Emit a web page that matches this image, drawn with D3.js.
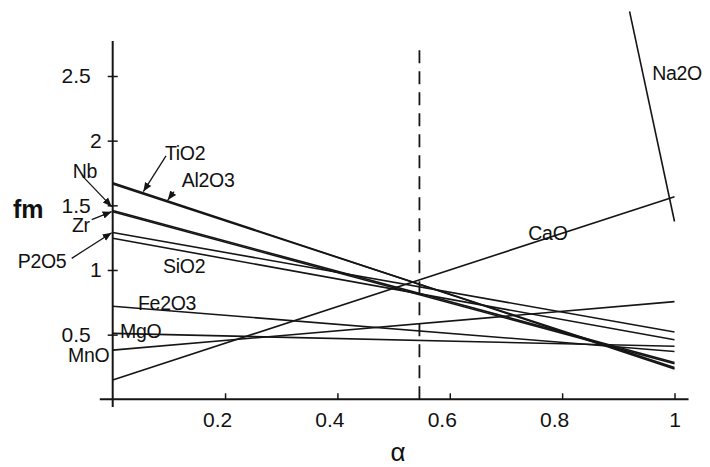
<!DOCTYPE html>
<html><head><meta charset="utf-8">
<script src="https://cdn.jsdelivr.net/npm/d3@7"></script>
<style>
body{margin:0;background:#fff}
text{font-family:"Liberation Sans",Arial,Helvetica,sans-serif;fill:#111}
</style>
</head><body>
<svg id="c" width="710" height="467"></svg>
<script>
// ---- data ----
const oxides      = ["TiO2","Al2O3","Nb","Zr","P2O5","SiO2","Fe2O3","MgO","MnO","CaO"];
const fmAtAlpha0  = [1.675, 1.665, 1.46, 1.45, 1.29, 1.245, 0.72, 0.51, 0.38, 0.15];
const fmAtAlpha1  = [0.235, 0.245, 0.285, 0.275, 0.52, 0.46, 0.37, 0.41, 0.755, 1.567];
const na2oAlpha   = [0.92, 1];
const na2oFm      = [3.0, 1.375];
const xTicks      = [0.2, 0.4, 0.6, 0.8, 1];
const yTicks      = [0.5, 1, 1.5, 2, 2.5];
const alphaCrit   = 0.546;

// label anchors in data units [alpha, fm]
const labelPos = {
  TiO2:[0.093,1.851], Al2O3:[0.123,1.642], Nb:[-0.071,1.711], Zr:[-0.0725,1.29],
  P2O5:[-0.169,1.015], SiO2:[0.0896,0.977], Fe2O3:[0.045,0.691], MgO:[0.013,0.474],
  MnO:[-0.0796,0.2885], CaO:[0.7398,1.232], Na2O:[0.9604,2.469]
};
const leaders = [
  [[0.0949,1.882],[0.0545,1.606]],
  [[0.1092,1.606],[0.098,1.541]],
  [[-0.0529,1.722],[-0.0018,1.49]],
  [[-0.0374,1.39],[-0.0018,1.451]],
  [[-0.073,1.09],[-0.0018,1.288]]
];

// ---- drawing ----
const svg = d3.select("#c");
const x = d3.scaleLinear().domain([0,1]).range([112.7,674.5]);
const y = d3.scaleLinear().domain([0,2.5]).range([399.3,76]);
const ink = "#151515";

svg.append("defs").append("marker")
  .attr("id","arr").attr("viewBox","0 0 10 10").attr("refX",10).attr("refY",5)
  .attr("markerWidth",7).attr("markerHeight",7).attr("orient","auto")
  .append("path").attr("d","M0,1 L10,5 L0,9 z").attr("fill",ink);

// axes lines
svg.append("line").attr("x1",x(-0.023)).attr("x2",x(1.025)).attr("y1",y(0)).attr("y2",y(0))
  .attr("stroke",ink).attr("stroke-width",2);
svg.append("line").attr("x1",x(0)).attr("x2",x(0)).attr("y1",y(-0.06)).attr("y2",y(2.77))
  .attr("stroke",ink).attr("stroke-width",2);

// y axis ticks & labels
const ya = svg.append("g").attr("transform",`translate(${x(0)},0)`)
  .call(d3.axisLeft(y).tickValues(yTicks).tickSizeInner(5).tickSizeOuter(0).tickFormat(d=>String(d)));
ya.select(".domain").remove();
ya.selectAll("line").attr("stroke",ink).attr("stroke-width",1.5);
ya.selectAll("text").attr("x", d => Number.isInteger(d) ? -11 : -22)
  .style("font-size","21px").attr("fill",ink);
const ya2 = svg.append("g").attr("transform",`translate(${x(0)},0)`)
  .call(d3.axisRight(y).tickValues(yTicks).tickSize(5).tickFormat(""));
ya2.select(".domain").remove();
ya2.selectAll("line").attr("stroke",ink).attr("stroke-width",1.5);

// x axis ticks & labels
const xa = svg.append("g").attr("transform",`translate(0,${y(0)})`)
  .call(d3.axisBottom(x).tickValues(xTicks).tickSize(-6).tickPadding(13).tickFormat(d=>String(d)));
xa.select(".domain").remove();
xa.selectAll("line").attr("stroke",ink).attr("stroke-width",1.5);
xa.selectAll("text").attr("dx", d => Number.isInteger(d) ? 0 : -8)
  .style("font-size","21px").attr("fill",ink);

// dashed critical alpha
svg.append("line").attr("x1",x(alphaCrit)).attr("x2",x(alphaCrit))
  .attr("y1",y(0)).attr("y2",y(2.75))
  .attr("stroke",ink).attr("stroke-width",1.8).attr("stroke-dasharray","13,8");

// oxide lines
const lineGen = d3.line().x(d=>x(d[0])).y(d=>y(d[1]));
oxides.forEach((name,i)=>{
  svg.append("path").datum([[0,fmAtAlpha0[i]],[1,fmAtAlpha1[i]]])
    .attr("d",lineGen).attr("fill","none").attr("stroke",ink).attr("stroke-width",1.6);
});
svg.append("path").datum(na2oAlpha.map((a,i)=>[a,na2oFm[i]]))
  .attr("d",lineGen).attr("fill","none").attr("stroke",ink).attr("stroke-width",1.6);

// leaders
leaders.forEach(l=>{
  svg.append("path").datum(l).attr("d",lineGen).attr("fill","none")
    .attr("stroke",ink).attr("stroke-width",1.3).attr("marker-end","url(#arr)");
});

// labels
Object.entries(labelPos).forEach(([name,p])=>{
  svg.append("text").attr("x",x(p[0])).attr("y",y(p[1]))
    .style("font-size","19.5px").attr("letter-spacing","-0.3px").text(name);
});

// axis titles
svg.append("text").attr("x",x(-0.1776)).attr("y",y(1.402))
  .style("font-size","25px").style("font-weight","bold").text("fm");
svg.append("text").attr("x",x(0.508)).attr("y",y(-0.477)).attr("text-anchor","middle")
  .style("font-size","26px").text("α");
</script>
</body></html>
